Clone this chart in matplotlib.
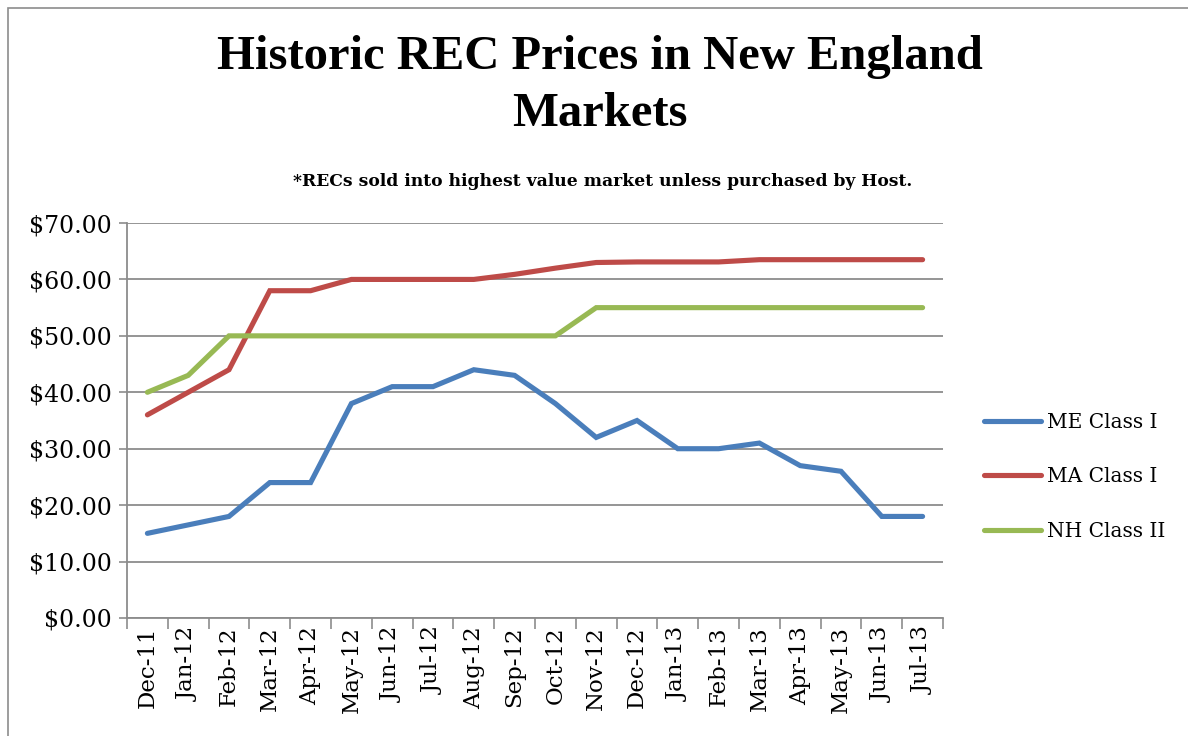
import matplotlib
matplotlib.use("Agg")
import matplotlib.pyplot as plt
from matplotlib.patches import Rectangle

months = ["Dec-11", "Jan-12", "Feb-12", "Mar-12", "Apr-12", "May-12", "Jun-12",
          "Jul-12", "Aug-12", "Sep-12", "Oct-12", "Nov-12", "Dec-12", "Jan-13",
          "Feb-13", "Mar-13", "Apr-13", "May-13", "Jun-13", "Jul-13"]
me_class1 = [15, 16.5, 18, 24, 24, 38, 41, 41, 44, 43, 38, 32, 35, 30, 30, 31, 27, 26, 18, 18]
ma_class1 = [36, 40, 44, 58, 58, 60, 60, 60, 60, 60.9, 62, 63, 63.1, 63.1, 63.1, 63.5, 63.5, 63.5, 63.5, 63.5]
nh_class2 = [40, 43, 50, 50, 50, 50, 50, 50, 50, 50, 50, 55, 55, 55, 55, 55, 55, 55, 55, 55]
yticks = [0, 10, 20, 30, 40, 50, 60, 70]

plt.rcParams['font.family'] = ['DejaVu Serif', 'Liberation Serif']
title_font = ['Liberation Serif', 'DejaVu Serif']

W, H = 1188, 736
fig = plt.figure(figsize=(W / 100, H / 100), dpi=100)

# outer chart border
fig.patches.append(Rectangle((8 / W, -0.1), 1.2, (H - 8) / H + 0.1, transform=fig.transFigure,
                             fill=False, edgecolor="#8c8c8c", lw=1.2))

left, right, top, bottom = 127, 943, 223, 618
ax = fig.add_axes([left / W, 1 - bottom / H, (right - left) / W, (bottom - top) / H])

x = list(range(len(months)))
lw = 3.7
ax.plot(x, me_class1, color="#4A7EBB", lw=lw, solid_capstyle="round", solid_joinstyle="miter", label="ME Class I")
ax.plot(x, ma_class1, color="#BE4B48", lw=lw, solid_capstyle="round", solid_joinstyle="miter", label="MA Class I")
ax.plot(x, nh_class2, color="#98B954", lw=lw, solid_capstyle="round", solid_joinstyle="miter", label="NH Class II")

ax.set_xlim(-0.5, len(months) - 0.5)
ax.set_ylim(0, 70)
ax.set_yticks(yticks)
ax.set_yticklabels([f"${v:.2f}" for v in yticks], fontsize=17)
ax.yaxis.grid(True, color="#8c8c8c", lw=1.3)
ax.set_axisbelow(True)

ax.set_xticks([i - 0.5 for i in range(len(months) + 1)])
ax.set_xticklabels([])
ax.set_xticks(x, minor=True)
ax.set_xticklabels(months, minor=True, rotation=90, fontsize=16.5)
ax.tick_params(axis="x", which="major", length=8, width=1.2, color="#8c8c8c", direction="out")
ax.tick_params(axis="x", which="minor", length=0, pad=6)
ax.tick_params(axis="y", length=6, width=1.2, color="#8c8c8c", pad=5)

for s in ["top", "right"]:
    ax.spines[s].set_visible(False)
for s in ["left", "bottom"]:
    ax.spines[s].set_color("#8c8c8c")
    ax.spines[s].set_linewidth(1.3)

fig.text(600 / W, 1 - 57 / H, "Historic REC Prices in New England", ha="center", va="center",
         fontsize=35, fontweight="bold", family=title_font)
fig.text(600 / W, 1 - 114 / H, "Markets", ha="center", va="center", fontsize=35, fontweight="bold",
         family=title_font)
fig.text(603 / W, 1 - 181 / H, "*RECs sold into highest value market unless purchased by Host.",
         ha="center", va="center", fontsize=12.3, fontweight="bold")

leg = fig.legend(loc="center left", bbox_to_anchor=(966 / W, 1 - 477 / H), frameon=False,
                 fontsize=14.5, handlelength=2.8, labelspacing=1.75, handletextpad=0.3)

fig.savefig("out.png", dpi=100)
